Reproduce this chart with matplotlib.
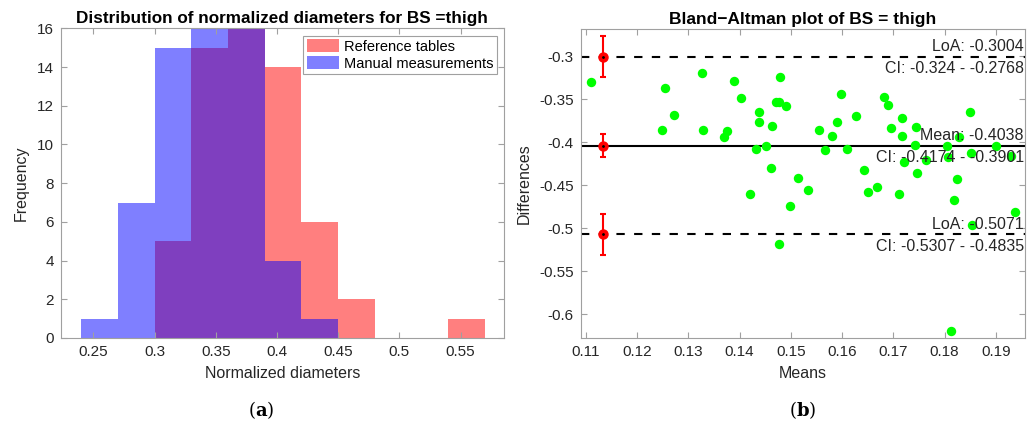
import numpy as np
import matplotlib
matplotlib.use("Agg")
import matplotlib.pyplot as plt
from matplotlib.patches import Patch
from matplotlib.ticker import FuncFormatter

plt.rcParams['font.family'] = ['Liberation Sans', 'DejaVu Sans']
plt.rcParams['mathtext.fontset'] = 'dejavuserif'

# histogram (a)
bin_edges = [0.24, 0.27, 0.30, 0.33, 0.36, 0.39, 0.42, 0.45, 0.48, 0.51, 0.54, 0.57]
ref_counts = [0, 0, 5, 15, 17, 14, 6, 2, 0, 0, 1]
manual_counts = [1, 7, 15, 16, 16, 4, 1, 0, 0, 0, 0]

# bland-altman (b)
means = [0.1110, 0.1255, 0.1326, 0.1390, 0.1479, 0.1402, 0.1272, 0.1248, 0.1328, 0.1376,
         0.1369, 0.1439, 0.1438, 0.1471, 0.1477, 0.1491, 0.1464, 0.1432, 0.1452, 0.1462,
         0.1514, 0.1533, 0.1421, 0.1499, 0.1598, 0.1556, 0.1581, 0.1590, 0.1566, 0.1610,
         0.1627, 0.1643, 0.1650, 0.1668, 0.1681, 0.1689, 0.1695, 0.1718, 0.1717, 0.1745,
         0.1743, 0.1720, 0.1747, 0.1763, 0.1804, 0.1806, 0.1828, 0.1851, 0.1824, 0.1850,
         0.1900, 0.1930, 0.1819, 0.1712, 0.1937, 0.1854, 0.1813, 0.1477]
diffs = [-0.3302, -0.3372, -0.3198, -0.3284, -0.3237, -0.3485, -0.3686, -0.3853, -0.3853, -0.3872,
         -0.3935, -0.3644, -0.3760, -0.3531, -0.3528, -0.3581, -0.3810, -0.4081, -0.4040, -0.4302,
         -0.4419, -0.4555, -0.4601, -0.4741, -0.3438, -0.3857, -0.3930, -0.3767, -0.4086, -0.4074,
         -0.3698, -0.4319, -0.4581, -0.4523, -0.3477, -0.3566, -0.3834, -0.3717, -0.3923, -0.3822,
         -0.4031, -0.4233, -0.4353, -0.4209, -0.4040, -0.4167, -0.3942, -0.4121, -0.4430, -0.3648,
         -0.4040, -0.4156, -0.4671, -0.4601, -0.4813, -0.4960, -0.6191, -0.5181]

line_names = ['LoA', 'Mean', 'LoA']
line_values = [-0.3004, -0.4038, -0.5071]
ci_low = [-0.324, -0.4174, -0.5307]
ci_high = [-0.2768, -0.3901, -0.4835]
ci_labels = ['-0.324 - -0.2768', '-0.4174 - -0.3901', '-0.5307 - -0.4835']
errbar_x = 0.1134

spine_col = '#a0a0a0'
text_col = '#262626'

fig = plt.figure(figsize=(10.35, 4.34), dpi=100)
ax1 = fig.add_axes([0.0586, 0.2212, 0.4283, 0.7136])
ax2 = fig.add_axes([0.5611, 0.2219, 0.4293, 0.7106])

for ax in (ax1, ax2):
    for s in ax.spines.values():
        s.set_color(spine_col)
    ax.tick_params(direction='in', top=True, right=True, color=spine_col,
                   labelcolor=text_col, labelsize=11, length=4, pad=5)

# (a)
ax1.stairs(ref_counts, bin_edges, fill=True, color='red', alpha=0.5, linewidth=0)
ax1.stairs(manual_counts, bin_edges, fill=True, color='blue', alpha=0.5, linewidth=0)
ax1.set_xlim(0.2233, 0.5854)
ax1.set_ylim(0, 16)
ax1.set_xticks([0.25, 0.3, 0.35, 0.4, 0.45, 0.5, 0.55])
ax1.set_yticks(range(0, 17, 2))
ax1.xaxis.set_major_formatter(FuncFormatter(lambda v, p: '{:g}'.format(round(v, 4))))
ax1.set_xlabel('Normalized diameters', fontsize=11.5, color=text_col, labelpad=5)
ax1.set_ylabel('Frequency', fontsize=11.5, color=text_col, labelpad=6)
ax1.set_title('Distribution of normalized diameters for BS =thigh', fontsize=12.3,
              fontweight='bold', pad=4)
handles = [Patch(facecolor='red', alpha=0.5, linewidth=0),
           Patch(facecolor='blue', alpha=0.5, linewidth=0)]
leg = ax1.legend(handles, ['Reference tables', 'Manual measurements'], loc='upper right',
                 fontsize=10.5, fancybox=False, framealpha=1, edgecolor=spine_col,
                 borderaxespad=0.5, handlelength=2.2, handleheight=0.95, handletextpad=0.3,
                 labelspacing=0.2, borderpad=0.25)
leg.get_frame().set_linewidth(0.8)

# (b)
ax2.scatter(means, diffs, s=46, color='#00ff00', zorder=3, linewidths=0)
for i, v in enumerate(line_values):
    ls = '-' if line_names[i] == 'Mean' else (0, (4, 4.5))
    ax2.axhline(v, color='black', lw=1.5, ls=ls, zorder=2)
    ax2.errorbar([errbar_x], [v], yerr=[[v - ci_low[i]], [ci_high[i] - v]], fmt='o',
                 color='red', ms=6.5, capsize=2.2, elinewidth=1.5, capthick=1.5, zorder=4)
    ax2.plot([errbar_x], [v], '.', color='black', ms=2, zorder=5)
    ax2.annotate(f'{line_names[i]}: {v:.4f}', xy=(1, v), xycoords=('axes fraction', 'data'),
                 xytext=(-1, 2), textcoords='offset points', ha='right', va='bottom',
                 fontsize=11.5, color=text_col, zorder=6)
    ax2.annotate(f'CI: {ci_labels[i]}', xy=(1, v), xycoords=('axes fraction', 'data'),
                 xytext=(-1, -3), textcoords='offset points', ha='right', va='top',
                 fontsize=11.5, color=text_col, zorder=6)
ax2.set_xlim(0.10902, 0.19572)
ax2.set_ylim(-0.6272, -0.2686)
ax2.set_xticks([0.11, 0.12, 0.13, 0.14, 0.15, 0.16, 0.17, 0.18, 0.19])
ax2.set_yticks([-0.3, -0.35, -0.4, -0.45, -0.5, -0.55, -0.6])
fmt = FuncFormatter(lambda v, p: '{:g}'.format(round(v, 4)))
ax2.xaxis.set_major_formatter(fmt)
ax2.yaxis.set_major_formatter(fmt)
ax2.set_xlabel('Means', fontsize=11.5, color=text_col, labelpad=5)
ax2.set_ylabel('Differences', fontsize=11.5, color=text_col, labelpad=5)
ax2.set_title('Bland\u2212Altman plot of BS = thigh', fontsize=12.5, fontweight='bold', pad=4)

fig.text(0.2525, 0.055, r'($\mathbf{a}$)', ha='center', va='center', fontsize=13,
         family='DejaVu Serif')
fig.text(0.7757, 0.055, r'($\mathbf{b}$)', ha='center', va='center', fontsize=13,
         family='DejaVu Serif')

fig.savefig('out.png', dpi=100)
